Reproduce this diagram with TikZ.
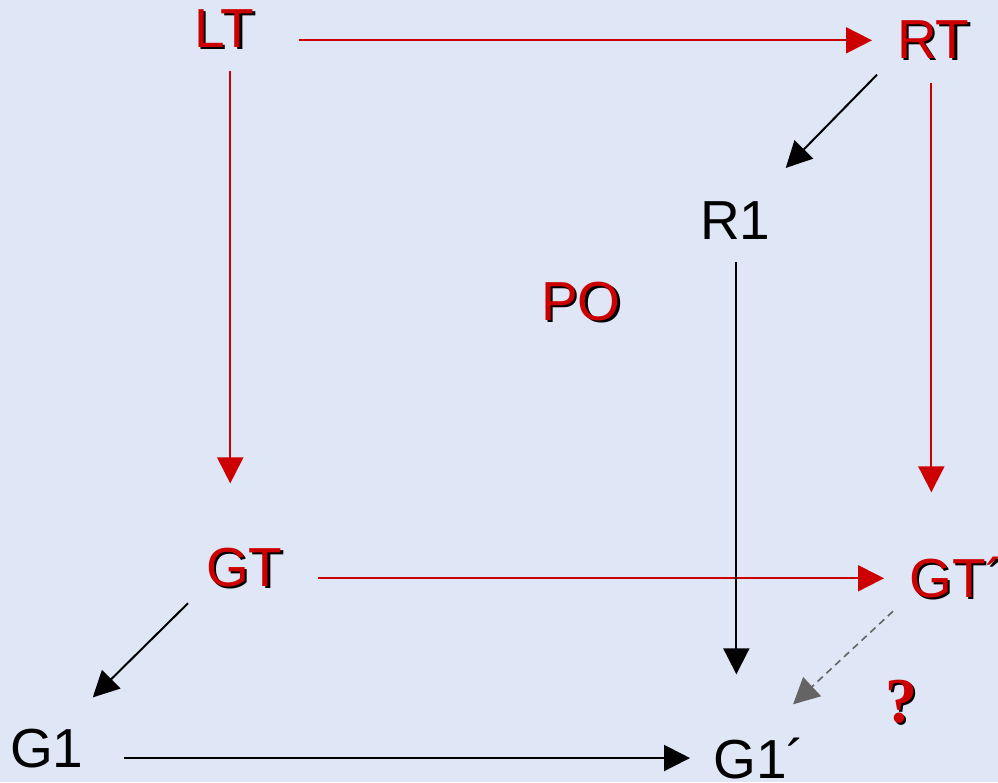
\documentclass[tikz,border=0pt]{standalone}
\usepackage{fontspec}
\setmainfont{Liberation Sans}
\newfontfamily\qfont{Liberation Serif}
\usepackage{tikz}
\usetikzlibrary{arrows.meta,calc}
\definecolor{bgblue}{RGB}{223,230,246}
\definecolor{darkred}{RGB}{204,0,0}
\definecolor{dashgray}{RGB}{100,100,100}
\newcommand{\shadowed}[1]{\rlap{\kern2.5pt\raisebox{-2.5pt}{\color{black}#1}}{\color{darkred}#1}}

\begin{document}
\begin{tikzpicture}[
    x=1pt, y=-1pt,
    lbl/.style={anchor=base west, inner sep=0pt, font=\fontsize{55}{60}\selectfont},
    redarr/.style={darkred, line width=2pt, -{Triangle[length=26pt,width=26pt]}},
    blkarr/.style={black, line width=2pt, -{Triangle[length=26pt,width=26pt]}},
    dasharr/.style={dashgray, line width=1.6pt, dash pattern=on 7pt off 5pt, -{Triangle[length=26pt,width=26pt]}}
]
    \fill[bgblue] (0,0) rectangle (998,782);
    \clip (0,0) rectangle (998,782);

    \node[lbl] (LT) at (194,47) {\shadowed{LT}};
    \node[lbl] (RT) at (897,58) {\shadowed{RT}};
    \node[lbl] (R1) at (700,239) {R1};
    \node[lbl] (PO) at (541,320) {\shadowed{PO}};
    \node[lbl] (GT) at (206,586) {\shadowed{GT}};
    \node[lbl] (GTp) at (909,597) {\shadowed{GT´}};
    \node[lbl] (G1) at (10,767) {G1};
    \node[lbl] (G1p) at (713,778) {G1´};
    \node[anchor=base, inner sep=0pt, font=\qfont\bfseries\fontsize{64}{64}\selectfont] (Q) at (901,722) {\shadowed{?}};

    % top square
    \draw[redarr, shorten <=44pt, shorten >=25pt] (LT.east |- RT.west) -- (RT.west);
    \draw[redarr, shorten <=21pt, shorten >=64pt] ([xshift=6pt]LT.south) -- ([xshift=6pt]LT.south |- GT.north);
    \draw[redarr, shorten <=22pt, shorten >=64pt] ([xshift=-2pt]RT.south) -- ([xshift=-2pt]RT.south |- GTp.north);
    \draw[redarr, shorten <=35pt, shorten >=25pt] (GT.east |- GTp.west) -- (GTp.west);

    % bottom square
    \draw[blkarr] ([shift={(-20,14)}]RT.south west) -- ([shift={(15,-33)}]R1.north east);
    \draw[blkarr, shorten <=23pt, shorten >=63pt] ([xshift=1pt]R1.south) -- ([xshift=1pt]R1.south |- G1p.north);
    \draw[blkarr] ([shift={(-18,14)}]GT.south west) -- ([shift={(9,-31)}]G1.north east);
    \draw[blkarr, shorten <=40pt, shorten >=23pt] (G1.east |- G1p.west) -- (G1p.west);
    \draw[dasharr] ([shift={(-16,11)}]GTp.south west) -- ([shift={(-12,-33)}]G1p.north east);
\end{tikzpicture}
\end{document}
